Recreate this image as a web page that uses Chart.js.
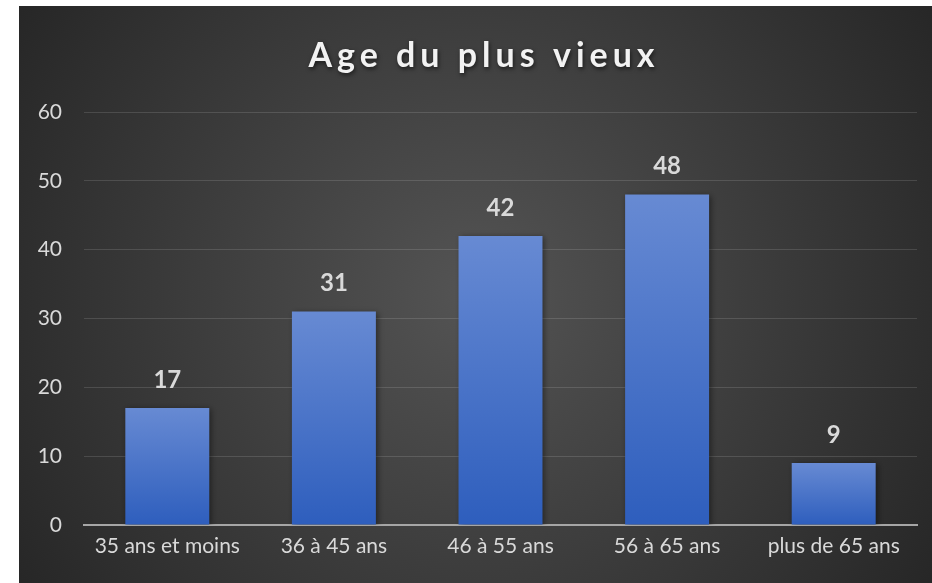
<!DOCTYPE html>
<html>
<head>
<meta charset="utf-8">
<script src="https://cdn.jsdelivr.net/npm/chart.js@4"></script>
<style>
  html, body { margin: 0; padding: 0; background: #fff; overflow: hidden; }
  #wrap { position: absolute; left: 19px; top: 6px; width: 913px; height: 577px; }
</style>
</head>
<body>
<div id="wrap"><canvas id="graficoAge"></canvas></div>
<script>
// données
const titre = "Age du plus vieux";
const categories = ["35 ans et moins", "36 à 45 ans", "46 à 55 ans", "56 à 65 ans", "plus de 65 ans"];
const valeurs = [17, 31, 42, 48, 9];
const yTicks = [0, 10, 20, 30, 40, 50, 60];

const police = "Lato, 'Open Sans', sans-serif";

// fond radial sombre
const fondPlugin = {
    id: 'fond',
    beforeDraw(chart) {
        const { ctx, width, height } = chart;
        const g = ctx.createRadialGradient(width * 0.5, height * 0.5, 0, width * 0.5, height * 0.5, width * 0.6);
        g.addColorStop(0, '#545454');
        g.addColorStop(1, '#262626');
        ctx.save();
        ctx.fillStyle = g;
        ctx.fillRect(0, 0, width, height);
        ctx.restore();
    }
};

// titre avec espacement
const titrePlugin = {
    id: 'titre',
    afterDraw(chart) {
        const ctx = chart.ctx;
        ctx.save();
        ctx.font = "bold 34px " + police;
        ctx.letterSpacing = "5px";
        ctx.fillStyle = '#f2f2f2';
        ctx.textAlign = 'center';
        ctx.textBaseline = 'middle';
        ctx.shadowColor = 'rgba(0,0,0,0.6)';
        ctx.shadowBlur = 4;
        ctx.shadowOffsetX = 1;
        ctx.shadowOffsetY = 2;
        ctx.fillText(titre, 465, 50);
        ctx.restore();
    }
};

// ombre des barres
const ombrePlugin = {
    id: 'ombre',
    beforeDatasetsDraw(chart) {
        const ctx = chart.ctx;
        ctx.save();
        ctx.shadowColor = 'rgba(0,0,0,0.45)';
        ctx.shadowBlur = 6;
        ctx.shadowOffsetX = 2;
        ctx.shadowOffsetY = 1;
    },
    afterDatasetsDraw(chart) {
        chart.ctx.restore();
    }
};

// étiquettes de valeurs
const etiquettesPlugin = {
    id: 'etiquettes',
    afterDatasetsDraw(chart) {
        const ctx = chart.ctx;
        const meta = chart.getDatasetMeta(0);
        ctx.save();
        ctx.font = "bold 24px " + police;
        ctx.fillStyle = '#d9d9d9';
        ctx.textAlign = 'center';
        ctx.textBaseline = 'middle';
        meta.data.forEach((bar, i) => {
            ctx.fillText(String(valeurs[i]), bar.x, bar.y - 28);
        });
        ctx.restore();
    }
};

function degradeBarre(context) {
    const chart = context.chart;
    const { ctx, chartArea, scales } = chart;
    if (!chartArea) return '#4472c4';
    const v = valeurs[context.dataIndex];
    const top = scales.y.getPixelForValue(v);
    const base = scales.y.getPixelForValue(0);
    const g = ctx.createLinearGradient(0, top, 0, base);
    g.addColorStop(0, '#678ad3');
    g.addColorStop(1, '#2e5ebd');
    return g;
}

const ctx = document.getElementById("graficoAge").getContext("2d");

new Chart(ctx, {
    type: 'bar',
    data: {
        labels: categories,
        datasets: [{
            label: titre,
            data: valeurs,
            backgroundColor: degradeBarre,
            borderWidth: 0,
            barPercentage: 0.504,
            categoryPercentage: 1.0
        }]
    },
    options: {
        responsive: true,
        maintainAspectRatio: false,
        animation: false,
        layout: { padding: { top: 106, right: 15, left: 0, bottom: 0 } },
        scales: {
            x: {
                grid: { display: false, drawTicks: false },
                border: { display: true, color: '#a6a6a6', width: 2 },
                ticks: {
                    color: '#d9d9d9',
                    font: { family: police, size: 21 },
                    padding: 9,
                    maxRotation: 0
                },
                afterFit(s) { s.height = 58; }
            },
            y: {
                min: 0,
                max: 60,
                afterBuildTicks(s) { s.ticks = yTicks.map(v => ({ value: v })); },
                grid: { color: 'rgba(255,255,255,0.13)', lineWidth: 1, drawTicks: false },
                border: { display: false },
                ticks: {
                    color: '#d9d9d9',
                    font: { family: police, size: 21 },
                    padding: 22
                },
                afterFit(s) { s.width = 65; }
            }
        },
        plugins: {
            legend: { display: false },
            title: { display: false },
            tooltip: { enabled: false }
        }
    },
    plugins: [fondPlugin, ombrePlugin, etiquettesPlugin, titrePlugin]
});
</script>
</body>
</html>
